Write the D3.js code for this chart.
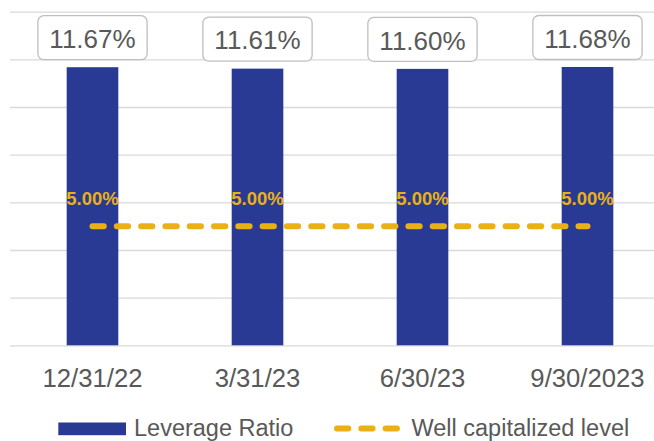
<!DOCTYPE html>
<html>
<head>
<meta charset="utf-8">
<script src="https://cdn.jsdelivr.net/npm/d3@7"></script>
<style>
  html, body { margin: 0; padding: 0; background: #fff; }
  svg { display: block; font-family: "Liberation Sans", Arial, sans-serif; }
</style>
</head>
<body>
<svg id="chart" width="654" height="441"></svg>
<script>
// Quarter-end leverage ratio vs. the well-capitalized threshold
const categories = ["12/31/22", "3/31/23", "6/30/23", "9/30/2023"];
const leverageRatio = [11.67, 11.61, 11.60, 11.68];
const wellCapitalized = [5.00, 5.00, 5.00, 5.00];
const yTicks = [0, 2, 4, 6, 8, 10, 12, 14];
const seriesNames = ["Leverage Ratio", "Well capitalized level"];

const barColor = "#283A93";
const lineColor = "#EAB116";
const textColor = "#595959";
const gridColor = "#D9D9D9";

const svg = d3.select("#chart");

const x = d3.scaleBand()
  .domain(categories)
  .range([10, 670])
  .paddingInner(0.687)
  .paddingOuter(0.3435);

const y = d3.scaleLinear()
  .domain([0, 14])
  .range([345.3, 11.7]);

const cx = c => x(c) + x.bandwidth() / 2;

// horizontal gridlines
const grid = svg.append("g")
  .attr("transform", "translate(10,0)")
  .call(d3.axisLeft(y).tickValues(yTicks).tickSize(-660).tickFormat(""));
grid.select(".domain").remove();
grid.selectAll(".tick line").attr("stroke", gridColor).attr("stroke-width", 1.3);

// bars
svg.append("g").selectAll("rect")
  .data(categories)
  .join("rect")
  .attr("x", c => x(c))
  .attr("width", x.bandwidth())
  .attr("y", (c, i) => y(leverageRatio[i]))
  .attr("height", (c, i) => y(0) - y(leverageRatio[i]))
  .attr("fill", barColor);

// category axis
const xAxis = svg.append("g")
  .attr("transform", `translate(0,${y(0)})`)
  .call(d3.axisBottom(x).tickSize(0).tickPadding(0));
xAxis.select(".domain").remove();
xAxis.selectAll("text")
  .attr("dy", null)
  .attr("y", 41.4)
  .attr("fill", textColor)
  .attr("font-size", "25.7px")
  .attr("font-family", "'Liberation Sans', Arial, sans-serif");

// boxed value labels above the bars
const valueLabels = svg.append("g").selectAll("g")
  .data(categories)
  .join("g");
valueLabels.each(function(c, i) {
  const g = d3.select(this);
  const top = y(leverageRatio[i]);
  const t = g.append("text")
    .attr("x", cx(c))
    .attr("y", top - 19.2)
    .attr("text-anchor", "middle")
    .attr("fill", textColor)
    .attr("font-size", "26px")
    .text(leverageRatio[i].toFixed(2) + "%");
  const w = t.node().getBBox().width + 23;
  g.insert("rect", "text")
    .attr("x", cx(c) - w / 2)
    .attr("y", top - 51.5)
    .attr("width", w)
    .attr("height", 44)
    .attr("rx", 6)
    .attr("fill", "#fff")
    .attr("stroke", "#BFBFBF")
    .attr("stroke-width", 1.3);
});

// well-capitalized dashed line
const line = d3.line()
  .x((d, i) => cx(categories[i]))
  .y(d => y(d));
svg.append("path")
  .datum(wellCapitalized)
  .attr("d", line)
  .attr("fill", "none")
  .attr("stroke", lineColor)
  .attr("stroke-width", 6)
  .attr("stroke-linecap", "round")
  .attr("stroke-dasharray", "11.3 13");

svg.append("g").selectAll("text")
  .data(categories)
  .join("text")
  .attr("x", c => cx(c))
  .attr("y", (c, i) => y(wellCapitalized[i]) - 21.5)
  .attr("text-anchor", "middle")
  .attr("fill", lineColor)
  .attr("font-size", "18.5px")
  .attr("font-weight", "bold")
  .text((c, i) => wellCapitalized[i].toFixed(2) + "%");

// legend
const legend = svg.append("g");
legend.append("rect")
  .attr("x", 58.3).attr("y", 422.5)
  .attr("width", 67.7).attr("height", 12.7)
  .attr("fill", barColor);
legend.append("text")
  .attr("x", 134).attr("y", 435.5)
  .attr("fill", textColor).attr("font-size", "23.5px")
  .text(seriesNames[0]);
legend.append("line")
  .attr("x1", 337).attr("x2", 397.5)
  .attr("y1", 428.5).attr("y2", 428.5)
  .attr("stroke", lineColor)
  .attr("stroke-width", 6)
  .attr("stroke-linecap", "round")
  .attr("stroke-dasharray", "11.3 13");
legend.append("text")
  .attr("x", 411.5).attr("y", 435.5)
  .attr("fill", textColor).attr("font-size", "23.5px")
  .text(seriesNames[1]);
</script>
</body>
</html>
